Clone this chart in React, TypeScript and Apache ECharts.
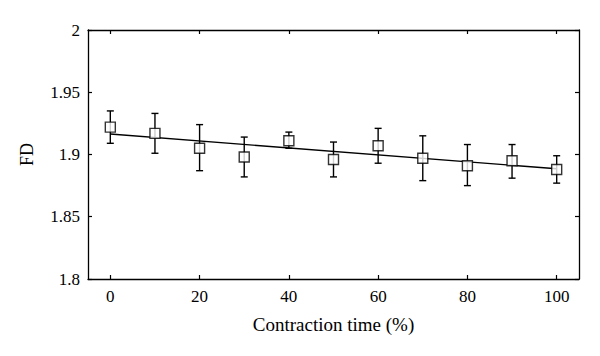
import React, { useEffect, useRef } from "react";
import * as echarts from "echarts";

const contractionTime = [0, 10, 20, 30, 40, 50, 60, 70, 80, 90, 100];
const fdMean = [1.922, 1.917, 1.905, 1.898, 1.911, 1.896, 1.907, 1.897, 1.891, 1.895, 1.888];
const fdUpper = [1.935, 1.933, 1.924, 1.914, 1.918, 1.910, 1.921, 1.915, 1.908, 1.908, 1.899];
const fdLower = [1.909, 1.901, 1.887, 1.882, 1.905, 1.882, 1.893, 1.879, 1.875, 1.881, 1.877];
const fitX = [0, 100];
const fitY = [1.9165, 1.8885];
const xTicks = [0, 20, 40, 60, 80, 100];

const FONT = "'Liberation Serif', 'DejaVu Serif', serif";

export default function App() {
  const ref = useRef<HTMLDivElement>(null);
  useEffect(() => {
    if (!ref.current) return;
    const chart = echarts.init(ref.current, null, { renderer: "svg" });
    const axisLine = { onZero: false, lineStyle: { color: "#000", width: 1.3 } };
    const tick = { inside: true, length: 4, lineStyle: { color: "#000", width: 1.2 } };
    const errData = contractionTime.map((x, i) => [x, fdLower[i], fdUpper[i]]);
    chart.setOption({
      animation: false,
      backgroundColor: "#fff",
      grid: { left: 88, right: 21, top: 30, bottom: 77, containLabel: false },
      xAxis: [
        {
          type: "value",
          min: -5,
          max: 105,
          position: "bottom",
          name: "Contraction time (%)",
          nameLocation: "middle",
          nameGap: 36,
          nameTextStyle: { fontFamily: FONT, fontSize: 19, color: "#000" },
          axisLine,
          axisTick: { ...tick, customValues: xTicks },
          axisLabel: { customValues: xTicks, fontFamily: FONT, fontSize: 17, color: "#000", margin: 9 },
          splitLine: { show: false },
        },
        {
          type: "value",
          min: -5,
          max: 105,
          position: "top",
          axisLine,
          axisTick: { ...tick, customValues: xTicks },
          axisLabel: { show: false, customValues: xTicks },
          splitLine: { show: false },
        },
      ],
      yAxis: [
        {
          type: "value",
          min: 1.8,
          max: 2,
          interval: 0.05,
          position: "left",
          name: "FD",
          nameLocation: "middle",
          nameGap: 52,
          nameTextStyle: { fontFamily: FONT, fontSize: 18, color: "#000" },
          axisLine,
          axisTick: tick,
          axisLabel: { fontFamily: FONT, fontSize: 17, color: "#000", margin: 8 },
          splitLine: { show: false },
        },
        {
          type: "value",
          min: 1.8,
          max: 2,
          interval: 0.05,
          position: "right",
          axisLine,
          axisTick: tick,
          axisLabel: { show: false },
          splitLine: { show: false },
        },
      ],
      series: [
        {
          type: "line",
          data: fitX.map((x, i) => [x, fitY[i]]),
          symbol: "none",
          lineStyle: { color: "#000", width: 1.4 },
          z: 1,
        },
        {
          type: "custom",
          data: errData,
          z: 2,
          renderItem: (params: any, api: any) => {
            const x = api.value(0);
            const lo = api.coord([x, api.value(1)]);
            const hi = api.coord([x, api.value(2)]);
            const hw = 3.5;
            const style = { stroke: "#000", lineWidth: 1.4 };
            return {
              type: "group",
              children: [
                { type: "line", shape: { x1: lo[0], y1: lo[1], x2: hi[0], y2: hi[1] }, style },
                { type: "line", shape: { x1: lo[0] - hw, y1: lo[1], x2: lo[0] + hw, y2: lo[1] }, style },
                { type: "line", shape: { x1: hi[0] - hw, y1: hi[1], x2: hi[0] + hw, y2: hi[1] }, style },
              ],
            };
          },
        },
        {
          type: "scatter",
          data: contractionTime.map((x, i) => [x, fdMean[i]]),
          symbol: "rect",
          symbolSize: 10,
          itemStyle: { color: "#fff", borderColor: "#000", borderWidth: 1.4 },
          z: 3,
        },
      ],
    });
    return () => chart.dispose();
  }, []);
  return <div ref={ref} style={{ width: 600, height: 356, margin: -8 }} />;
}
